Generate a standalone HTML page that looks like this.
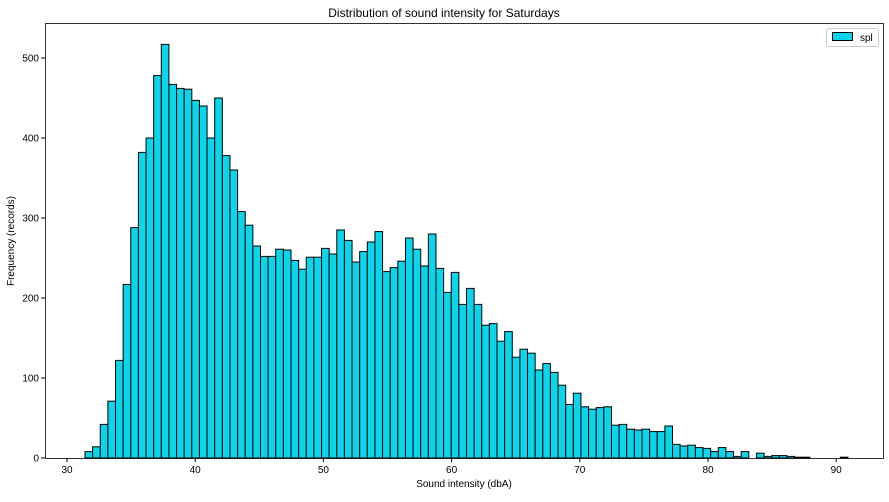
<!DOCTYPE html>
<html><head><meta charset="utf-8"><style>
body{margin:0;background:#fff;font-family:"Liberation Sans",sans-serif;}
</style></head><body>
<svg id="s" width="889" height="497" xmlns="http://www.w3.org/2000/svg" font-family="Liberation Sans, sans-serif">
<text x="444" y="17" font-size="12" text-anchor="middle">Distribution of sound intensity for Saturdays</text>
<text x="464" y="487" font-size="10" text-anchor="middle">Sound intensity (dbA)</text>
<text x="14" y="241" font-size="10" text-anchor="middle" transform="rotate(-90 14 241)">Frequency (records)</text>
<g id="bars"></g>
<rect x="45.5" y="23.5" width="838" height="435" fill="none" stroke="#000" stroke-width="0.8"/>
<g id="ticks" font-size="10"></g>
<rect x="826.5" y="28.5" width="52" height="18" fill="#fff" stroke="#ccc" rx="2"/>
<rect x="832.5" y="32.5" width="20" height="8" fill="#0bd5ea" stroke="#000"/>
<text x="860" y="41" font-size="10">spl</text>
</svg>
<script>
var v=[8,14,42,71,122,217,288,382,400,478,517,467,462,461,447,440,400,450,378,360,308,291,265,252,252,261,260,247,236,251,251,262,255,285,272,245,258,270,283,233,238,246,275,261,240,280,237,207,232,192,212,192,166,168,146,158,126,136,131,110,118,107,91,67,81,64,61,63,64,41,42,36,35,36,33,33,40,17,15,16,13,12,8,13,8,2,8,0,6,2,3,3,2,1,1,0,0,0,0,1];
var g='',w=7.63,x0=85;
for(var i=0;i<v.length;i++){if(!v[i])continue;var h=v[i]*0.8;g+='<rect x="'+(x0+i*w).toFixed(2)+'" y="'+(458-h).toFixed(2)+'" width="'+w+'" height="'+h.toFixed(2)+'" fill="#0bd5ea" stroke="#000" stroke-width="1"/>';}
document.getElementById('bars').innerHTML=g;
var t='';
for(var k=30;k<=90;k+=10){var x=67+(k-30)*12.82;t+='<line x1="'+x+'" y1="458" x2="'+x+'" y2="462" stroke="#000"/><text x="'+x+'" y="473" text-anchor="middle">'+k+'</text>';}
for(var k=0;k<=500;k+=100){var y=458-k*0.8;t+='<line x1="41" y1="'+y+'" x2="45" y2="'+y+'" stroke="#000"/><text x="39" y="'+(y+3.5)+'" text-anchor="end">'+k+'</text>';}
document.getElementById('ticks').innerHTML=t;
</script>
</body></html>
